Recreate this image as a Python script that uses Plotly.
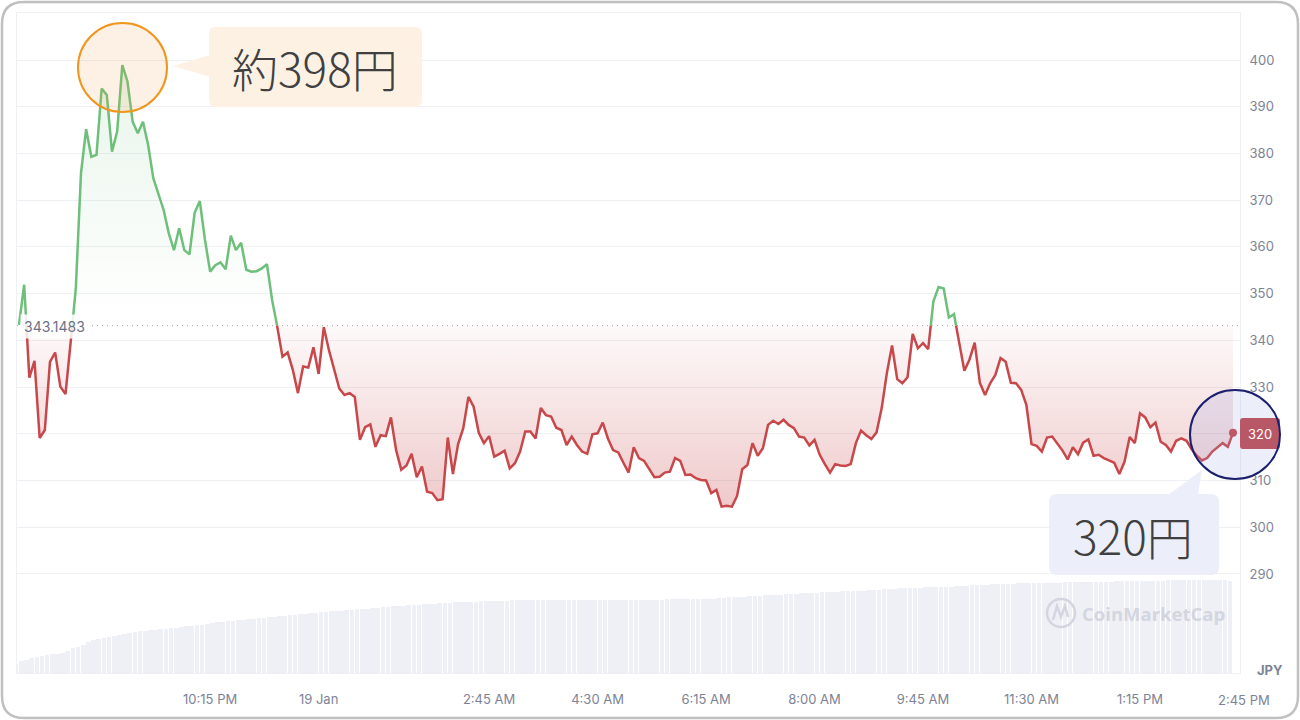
import plotly.graph_objects as go
import pandas as pd

# ---------------- data ----------------
start_time = "2025-01-18 19:10"
interval = "5min"
reference_price = 343.1483
last_price_label = "320"

price_part1 = [343.3, 351.9, 332.0, 335.6, 319.1, 320.8, 335.4, 337.4, 330.1, 328.5,
               339.4, 351.2, 375.8, 385.2, 379.3, 379.7, 393.9, 392.5, 380.4, 384.7,
               398.9, 395.4, 386.8, 384.3, 386.8, 381.8, 374.7, 371.5, 367.9, 362.9,
               359.3, 364.0, 359.3, 358.4, 367.3, 369.8, 361.5, 354.7, 356.1, 356.7,
               355.2, 362.4, 359.3, 360.9, 355.1, 354.7, 354.8, 355.4]
price_part2 = [356.3, 348.6, 342.9, 336.5, 337.4, 333.7, 328.7, 334.4, 334.2, 338.5,
               332.8, 342.8, 337.9, 334.0, 329.7, 328.3, 328.7, 327.9, 318.7, 321.4,
               322.0, 317.2, 319.7, 319.5, 323.5, 316.5, 312.3, 313.2, 315.7, 310.7,
               313.0, 307.6, 307.3, 305.8, 306.0, 319.2, 311.4, 317.8, 321.2, 327.9,
               325.8, 320.2, 318.0, 319.5, 315.1, 315.7]
price_part3 = [316.4, 312.6, 313.7, 316.2, 320.5, 320.5, 319.0, 325.5, 324.0, 323.7,
               321.3, 320.8, 317.6, 319.4, 317.6, 316.2, 315.7, 319.9, 320.1, 322.4,
               319.0, 316.5, 316.0, 313.8, 311.7, 317.1, 314.8, 314.2, 312.4, 310.7,
               310.8, 311.7, 311.9, 314.8, 314.2, 311.2, 311.3, 310.5, 310.1, 310.0,
               307.3, 308.0, 304.4, 304.6, 304.4, 306.7, 312.4, 313.3, 318.0]
price_part4 = [315.3, 316.9, 321.9, 322.8, 322.1, 323.0, 321.9, 321.2, 319.4, 319.2,
               317.5, 318.7, 315.5, 313.5, 311.7, 313.5, 313.2, 313.1, 313.5, 318.0,
               320.7, 319.7, 318.9, 320.3, 325.5, 333.0, 338.9, 331.7, 330.8, 332.1,
               341.4, 338.3, 339.4, 338.1, 348.3, 351.4, 351.1, 344.9, 345.6, 339.4,
               333.5, 335.9, 339.5, 330.9, 328.3, 330.8, 332.6]
price_part5 = [336.2, 335.4, 330.9, 330.8, 329.4, 326.2, 317.8, 317.4, 316.2, 319.2,
               319.4, 317.8, 316.4, 314.5, 317.1, 315.6, 318.1, 318.8, 315.3, 315.5,
               314.8, 314.3, 313.8, 311.4, 314.0, 319.3, 318.0, 324.4, 323.5, 321.4,
               322.4, 318.3, 317.6, 316.2, 318.5, 319.0, 318.5, 316.7, 315.3, 314.3,
               314.8, 316.2, 317.2, 318.0, 317.2, 320.2]
price_jpy = price_part1 + price_part2 + price_part3 + price_part4 + price_part5

volume_rel = [
    9.5, 12.0, 13.5, 15.0, 16.5, 17.5, 18.3, 19.0, 19.5, 20.0,
    22.0, 25.0, 26.5, 28.5, 31.5, 33.0, 34.5, 35.5, 36.5, 37.5,
    38.5, 39.3, 40.0, 40.7, 41.7, 42.3, 42.7, 43.3, 43.7, 44.0,
    44.7, 45.0, 45.7, 46.7, 47.3, 47.7, 48.3, 49.3, 50.0, 50.7,
    51.3, 52.0, 52.3, 53.0, 53.3, 54.0, 54.3, 55.0, 55.3, 55.7,
    56.0, 56.7, 57.3, 57.7, 58.3, 59.0, 59.3, 60.0, 60.3, 60.7,
    61.3, 61.7, 62.0, 62.3, 62.7, 63.0, 63.7, 64.0, 64.3, 65.0,
    65.3, 65.7, 66.3, 66.7, 67.0, 67.3, 67.7, 68.0, 68.3, 68.7,
    69.0, 69.3, 69.7, 70.0, 70.3, 70.7, 70.7, 71.0, 71.3, 71.3,
    71.7, 71.7, 72.0, 72.0, 72.3, 72.3, 72.7, 72.7, 73.0, 73.0,
    73.0, 73.3, 73.3, 73.3, 73.3, 73.3, 73.3, 73.3, 73.3, 73.3,
    73.3, 73.3, 73.3, 73.3, 73.3, 73.3, 73.3, 73.3, 73.3, 73.3,
    73.3, 73.3, 73.3, 73.3, 73.3, 73.3, 73.7, 73.7, 73.7, 73.7,
    74.0, 74.0, 74.0, 74.0, 74.3, 74.3, 74.7, 75.0, 75.7, 76.0,
    76.3, 76.3, 76.7, 77.0, 77.3, 77.7, 78.0, 78.0, 78.3, 78.7,
    79.0, 79.3, 79.7, 80.0, 80.0, 80.3, 80.7, 81.0, 81.3, 81.3,
    81.7, 81.7, 82.0, 82.3, 82.3, 82.7, 83.0, 83.3, 83.7, 84.0,
    84.3, 84.7, 85.0, 85.0, 85.3, 85.3, 85.7, 85.7, 86.0, 86.0,
    86.3, 86.3, 86.7, 87.0, 87.3, 87.7, 88.0, 88.3, 88.3, 88.7,
    89.0, 89.0, 89.3, 89.3, 89.7, 89.7, 90.0, 90.0, 90.0, 90.3,
    90.3, 90.3, 90.3, 90.7, 90.7, 90.7, 91.0, 91.0, 91.0, 91.0,
    91.3, 91.3, 91.3, 91.7, 91.7, 91.7, 92.0, 92.0, 92.0, 92.3,
    92.3, 92.3, 92.3, 92.7, 92.7, 92.7, 93.0, 93.0, 93.0, 93.0,
    93.3, 93.3, 93.0, 92.7, 92.7, 92.3]

price_tick_vals = [290, 300, 310, 320, 330, 340, 350, 360, 370, 380, 390, 400]
time_tick_vals = ["2025-01-18 22:15", "2025-01-19 00:00", "2025-01-19 02:45", "2025-01-19 04:30",
                  "2025-01-19 06:15", "2025-01-19 08:00", "2025-01-19 09:45", "2025-01-19 11:30",
                  "2025-01-19 13:15"]
time_tick_text = ["10:15 PM", "19 Jan", "2:45 AM", "4:30 AM", "6:15 AM", "8:00 AM",
                  "9:45 AM", "11:30 AM", "1:15 PM"]
last_time_text = "2:45 PM"
x_range = ["2025-01-18 19:08:04", "2025-01-19 14:51:47"]
y_range = [268.8, 410.06]
peak_label = "約398円"
last_label = "320円"

# ---------------- styling ----------------
GREEN = "#6dbf7a"
RED = "#c8474a"
LABEL = "#7d8396"
GRID = "#eef0f3"
FONT = "Inter, 'Noto Sans', sans-serif"
JP_FONT = "'Noto Sans CJK JP', 'Noto Sans', sans-serif"

W, H = 1300, 720
L, R, T, B = 17, 60, 13, 47
PW, PH = W - L - R, H - T - B


def px(x):
    return (x - L) / PW


def py(y):
    return (H - B - y) / PH


def rrect(x0, y0, x1, y1, r):
    return (f"M {px(x0 + r)},{py(y0)} L {px(x1 - r)},{py(y0)} Q {px(x1)},{py(y0)} {px(x1)},{py(y0 + r)} "
            f"L {px(x1)},{py(y1 - r)} Q {px(x1)},{py(y1)} {px(x1 - r)},{py(y1)} "
            f"L {px(x0 + r)},{py(y1)} Q {px(x0)},{py(y1)} {px(x0)},{py(y1 - r)} "
            f"L {px(x0)},{py(y0 + r)} Q {px(x0)},{py(y0)} {px(x0 + r)},{py(y0)} Z")


def poly(pts):
    return "M " + " L ".join(f"{px(a)},{py(b)}" for a, b in pts) + " Z"


times = pd.date_range(start_time, periods=len(price_jpy), freq=interval)
base = reference_price

# split the line at the reference price
xs, ys = [], []
for i, v in enumerate(price_jpy):
    if i > 0:
        v0 = price_jpy[i - 1]
        if (v0 - base) * (v - base) < 0:
            f = (base - v0) / (v - v0)
            xs.append(times[i - 1] + (times[i] - times[i - 1]) * f)
            ys.append(base)
    xs.append(times[i])
    ys.append(v)

y_up = [v if v >= base else None for v in ys]
y_dn = [v if v <= base else None for v in ys]
fill_up = [max(v, base) for v in ys]
fill_dn = [min(v, base) for v in ys]
base_line = [base] * len(xs)

fig = go.Figure()

step_ms = 5 * 60 * 1000
fig.add_trace(go.Bar(x=times, y=volume_rel, yaxis="y2", marker=dict(color="#eff0f5", line=dict(width=0)),
                     width=0.9 * step_ms, offset=-step_ms, hoverinfo="skip", showlegend=False))

fig.add_trace(go.Scatter(x=xs, y=base_line, mode="lines", line=dict(width=0), hoverinfo="skip", showlegend=False))
fig.add_trace(go.Scatter(x=xs, y=fill_up, mode="lines", line=dict(width=0), fill="tonexty",
                         fillgradient=dict(type="vertical", start=base, stop=400,
                                           colorscale=[[0, "rgba(109,191,122,0.0)"], [1, "rgba(109,191,122,0.16)"]]),
                         hoverinfo="skip", showlegend=False))
fig.add_trace(go.Scatter(x=xs, y=base_line, mode="lines", line=dict(width=0), hoverinfo="skip", showlegend=False))
fig.add_trace(go.Scatter(x=xs, y=fill_dn, mode="lines", line=dict(width=0), fill="tonexty",
                         fillgradient=dict(type="vertical", start=303, stop=base,
                                           colorscale=[[0, "rgba(200,71,74,0.30)"], [1, "rgba(200,71,74,0.03)"]]),
                         hoverinfo="skip", showlegend=False))
fig.add_trace(go.Scatter(x=xs, y=y_up, mode="lines", line=dict(color=GREEN, width=2.5),
                         connectgaps=False, showlegend=False))
fig.add_trace(go.Scatter(x=xs, y=y_dn, mode="lines", line=dict(color=RED, width=2.5),
                         connectgaps=False, showlegend=False))
fig.add_trace(go.Scatter(x=[times[-1]], y=[price_jpy[-1]], mode="markers",
                         marker=dict(color=RED, size=8), showlegend=False))

shapes = []
# outer frame
shapes.append(dict(type="path", xref="paper", yref="paper", path=rrect(2, 2, 1298, 718, 22),
                   line=dict(color="#c0c0c0", width=2.5), fillcolor="rgba(0,0,0,0)", layer="above"))
# reference dotted line
shapes.append(dict(type="line", xref="paper", yref="y", x0=0, x1=1, y0=base, y1=base,
                   line=dict(color="#a4a8b4", width=1, dash="1px,4px"), layer="below"))
# end price tag
shapes.append(dict(type="path", xref="paper", yref="paper", path=rrect(1240, 418, 1280, 449, 3),
                   fillcolor="#c0474a", line=dict(width=0), layer="above"))
# orange circle
shapes.append(dict(type="circle", xref="paper", yref="paper", x0=px(78), x1=px(167), y0=py(112), y1=py(23),
                   line=dict(color="#f0961e", width=2), fillcolor="rgba(240,160,80,0.15)", layer="above"))
# peak callout
shapes.append(dict(type="path", xref="paper", yref="paper", path=rrect(209, 27, 422, 107, 7),
                   fillcolor="#fdf1e4", line=dict(width=0), layer="above"))
shapes.append(dict(type="path", xref="paper", yref="paper", path=poly([(210, 55), (173, 66), (210, 77)]),
                   fillcolor="#fdf1e4", line=dict(width=0), layer="above"))
# navy circle
shapes.append(dict(type="circle", xref="paper", yref="paper", x0=px(1190), x1=px(1280), y0=py(479), y1=py(390),
                   line=dict(color="#1b1f6e", width=2), fillcolor="rgba(150,160,230,0.18)", layer="above"))
# last callout
shapes.append(dict(type="path", xref="paper", yref="paper", path=rrect(1049, 494, 1219, 575, 8),
                   fillcolor="#eceef9", line=dict(width=0), layer="above"))
shapes.append(dict(type="path", xref="paper", yref="paper", path=poly([(1168, 495), (1202, 470), (1198, 495)]),
                   fillcolor="#eceef9", line=dict(width=0), layer="above"))
# watermark logo
shapes.append(dict(type="circle", xref="paper", yref="paper", x0=px(1047), x1=px(1075), y0=py(627), y1=py(599),
                   line=dict(color="#d3d6e0", width=2.5), layer="above"))
shapes.append(dict(type="path", xref="paper", yref="paper",
                   path=f"M {px(1053)},{py(620)} L {px(1057)},{py(606)} L {px(1061)},{py(617)} L {px(1065)},{py(606)} L {px(1068)},{py(617)}",
                   line=dict(color="#d3d6e0", width=2.5), layer="above"))


def note(x, y, text, font, **kw):
    d = dict(xref="paper", yref="paper", x=px(x), y=py(y), text=text, showarrow=False,
             xanchor="center", yanchor="middle", font=font)
    d.update(kw)
    return d


annotations = [
    note(54, 327, "343.1483", dict(family=FONT, size=14, color="#6b7184"),
         bgcolor="rgba(255,255,255,0.85)", borderpad=3),
    note(1260, 433.5, last_price_label, dict(family=FONT, size=13, color="#ffffff")),
    note(315, 67, peak_label, dict(family=JP_FONT, size=46, color="#404040", weight=300)),
    note(1133, 535, last_label, dict(family=JP_FONT, size=46, color="#404040", weight=300)),
    note(1153, 613, "<b>CoinMarketCap</b>", dict(family="'Open Sans', sans-serif", size=18.5, color="#d3d6e0")),
    note(1270, 670, "<b>JPY</b>", dict(family=FONT, size=13, color=LABEL)),
    dict(xref="x", yref="paper", x=times[-1], y=py(700), text=last_time_text, showarrow=False,
         xanchor="center", yanchor="middle", xshift=11, font=dict(family=FONT, size=13, color=LABEL)),
]

fig.update_layout(
    width=W, height=H,
    margin=dict(l=L, r=R, t=T, b=B, pad=0),
    paper_bgcolor="white", plot_bgcolor="white",
    showlegend=False,
    shapes=shapes, annotations=annotations,
    xaxis=dict(type="date", range=x_range, tickvals=time_tick_vals, ticktext=time_tick_text,
               showgrid=False, zeroline=False, ticks="", showline=True, linecolor=GRID, mirror=True,
               tickfont=dict(family=FONT, size=13, color=LABEL), ticklabelstandoff=14),
    yaxis=dict(range=y_range, side="right", tickvals=price_tick_vals, showgrid=True, gridcolor=GRID,
               zeroline=False, ticks="", showline=True, linecolor=GRID, mirror=True,
               tickfont=dict(family=FONT, size=13, color=LABEL), ticklabelstandoff=6),
    yaxis2=dict(overlaying="y", range=[0, PH], visible=False, fixedrange=True),
    bargap=0,
)

fig.write_html("out.html", config={"displayModeBar": False},
               post_script="document.body.style.margin='0';")
